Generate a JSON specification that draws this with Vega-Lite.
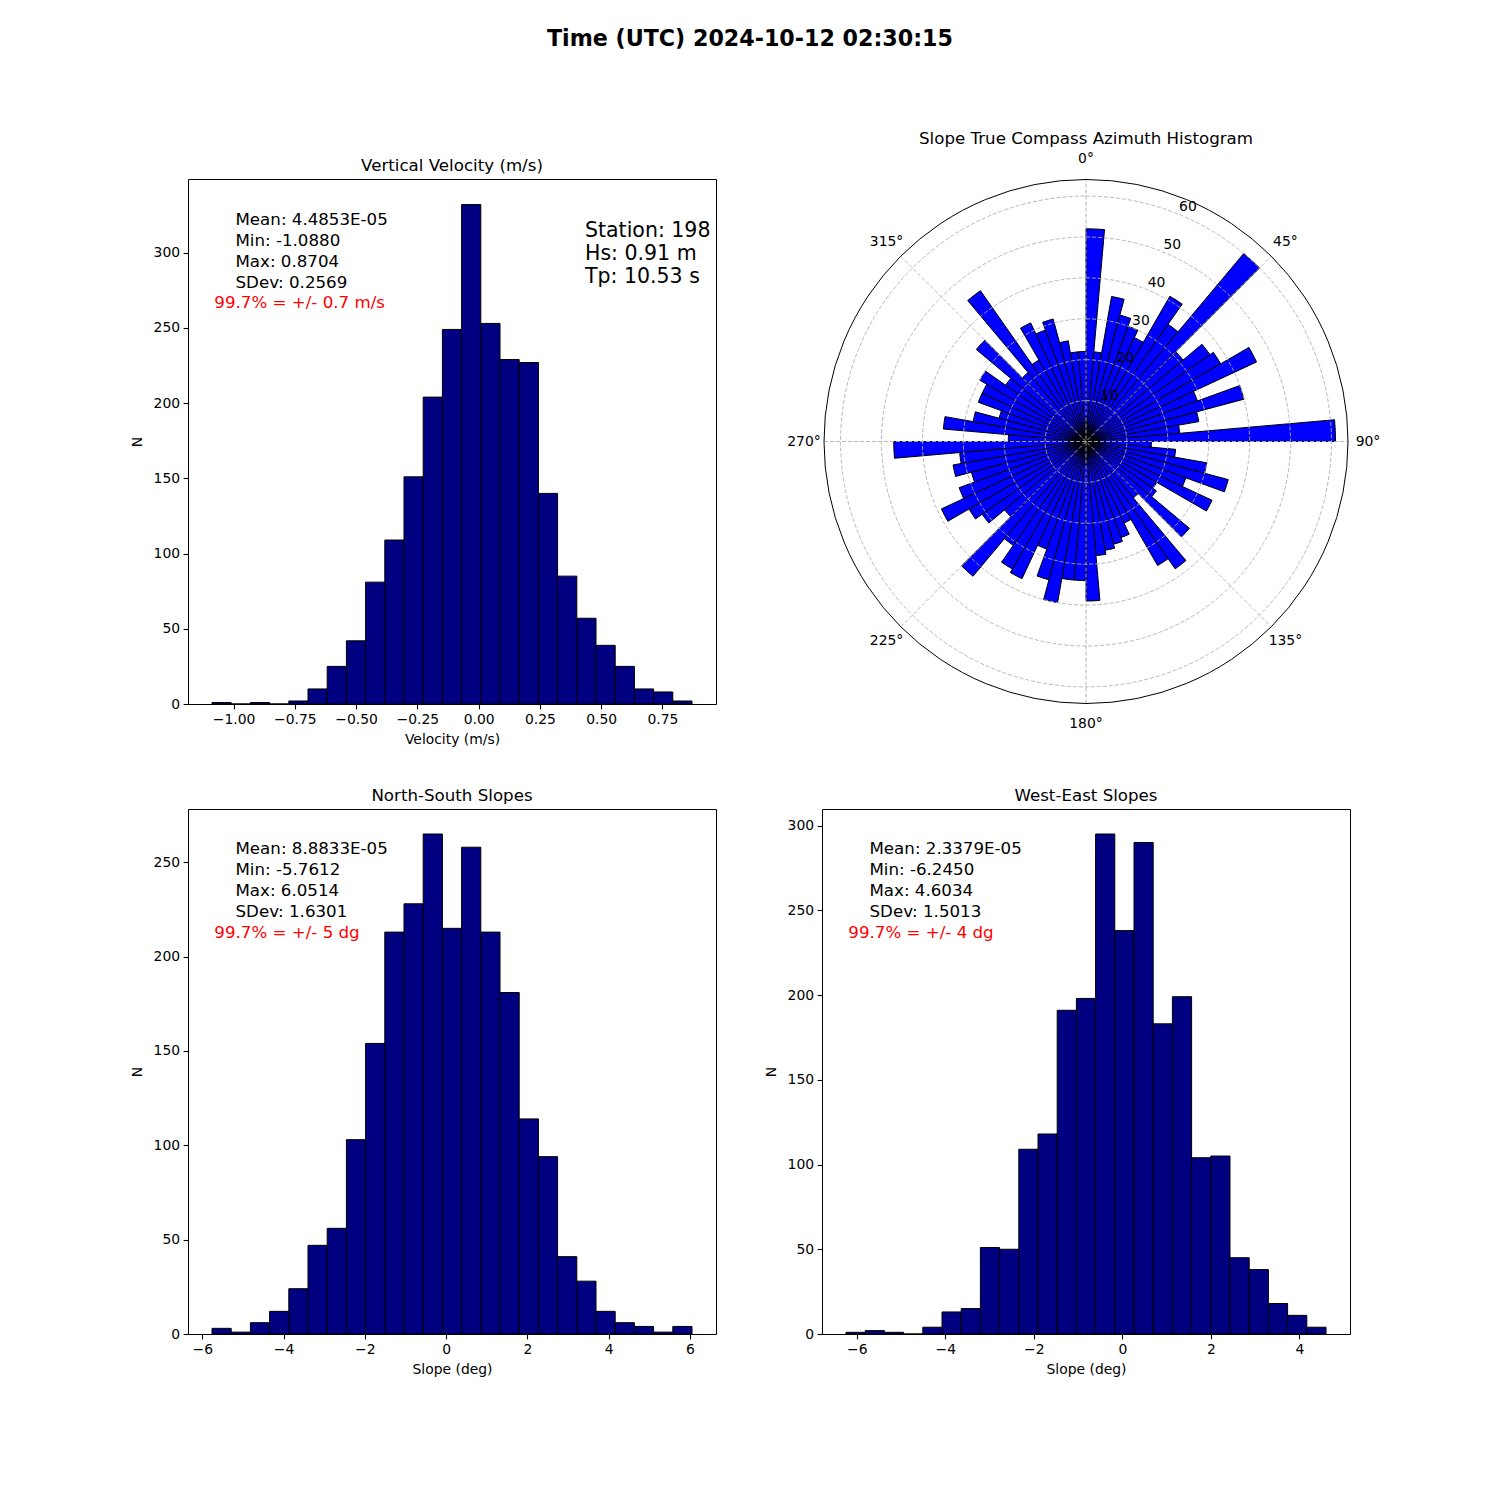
{
  "$schema": "https://vega.github.io/schema/vega-lite/v6.json",
  "background": "white",
  "padding": {"left": 129, "top": 28, "right": 5, "bottom": 5},
  "title": {"text": "Time (UTC) 2024-10-12 02:30:15", "font": "DejaVu Sans", "fontSize": 22.2, "fontWeight": "bold", "color": "black", "anchor": "middle", "offset": 81, "dx": -5},
  "columns": 2,
  "bounds": "flush",
  "spacing": {"row": 105, "column": 106},
  "config": {
    "font": "DejaVu Sans",
    "view": {"stroke": "black", "strokeWidth": 1},
    "axis": {"labelFont": "DejaVu Sans", "labelFontSize": 13.9, "labelColor": "black", "titleFont": "DejaVu Sans", "titleFontSize": 13.9, "titleFontWeight": "normal", "titleColor": "black", "tickColor": "black", "tickSize": 4.9, "tickWidth": 1.1, "domain": false, "grid": false, "labelPadding": 3.5, "labelFlush": false, "labelOverlap": false},
    "axisX": {"titlePadding": 6},
    "axisY": {"titlePadding": 9},
    "title": {"font": "DejaVu Sans", "fontSize": 16.67, "fontWeight": "normal", "color": "black", "offset": 4.5}
  },
  "concat": [
    {
      "width": 528, "height": 525,
      "title": {"text": "Vertical Velocity (m/s)"},
      "data": {"values": [
        {"lo": -1.088, "hi": -1.009664, "n": 1},
        {"lo": -1.009664, "hi": -0.931328, "n": 0},
        {"lo": -0.931328, "hi": -0.852992, "n": 1},
        {"lo": -0.852992, "hi": -0.774656, "n": 0},
        {"lo": -0.774656, "hi": -0.69632, "n": 2},
        {"lo": -0.69632, "hi": -0.617984, "n": 10},
        {"lo": -0.617984, "hi": -0.539648, "n": 25},
        {"lo": -0.539648, "hi": -0.461312, "n": 42},
        {"lo": -0.461312, "hi": -0.382976, "n": 81},
        {"lo": -0.382976, "hi": -0.30464, "n": 109},
        {"lo": -0.30464, "hi": -0.226304, "n": 151},
        {"lo": -0.226304, "hi": -0.147968, "n": 204},
        {"lo": -0.147968, "hi": -0.069632, "n": 249},
        {"lo": -0.069632, "hi": 0.008704, "n": 332},
        {"lo": 0.008704, "hi": 0.08704, "n": 253},
        {"lo": 0.08704, "hi": 0.165376, "n": 229},
        {"lo": 0.165376, "hi": 0.243712, "n": 227},
        {"lo": 0.243712, "hi": 0.322048, "n": 140},
        {"lo": 0.322048, "hi": 0.400384, "n": 85},
        {"lo": 0.400384, "hi": 0.47872, "n": 57},
        {"lo": 0.47872, "hi": 0.557056, "n": 39},
        {"lo": 0.557056, "hi": 0.635392, "n": 25},
        {"lo": 0.635392, "hi": 0.713728, "n": 10},
        {"lo": 0.713728, "hi": 0.792064, "n": 8},
        {"lo": 0.792064, "hi": 0.8704, "n": 2}
      ]},
      "layer": [
        {
          "mark": {"type": "bar", "fill": "#000080", "stroke": "black", "strokeWidth": 1},
          "encoding": {
            "x": {"field": "lo", "type": "quantitative", "scale": {"domain": [-1.18592, 0.96832], "nice": false, "zero": false}, "axis": {"title": "Velocity (m/s)", "values": [-1, -0.75, -0.5, -0.25, 0, 0.25, 0.5, 0.75], "format": ".2f"}},
            "x2": {"field": "hi"},
            "y": {"field": "n", "type": "quantitative", "scale": {"domain": [0, 349], "nice": false}, "axis": {"title": "N", "values": [0, 50, 100, 150, 200, 250, 300]}},
            "y2": {"datum": 0}
          }
        },
        {
          "data": {"values": [{"t": "Mean: 4.4853E-05\nMin: -1.0880\nMax: 0.8704\nSDev: 0.2569"}]},
          "mark": {"type": "text", "align": "left", "baseline": "alphabetic", "lineBreak": "\n", "lineHeight": 21, "fontSize": 16.67, "font": "DejaVu Sans", "color": "black"},
          "encoding": {"text": {"field": "t"}, "x": {"datum": -0.99212}, "y": {"datum": 318.7}}
        },
        {
          "data": {"values": [{"t": "99.7% = +/- 0.7 m/s"}]},
          "mark": {"type": "text", "align": "left", "baseline": "alphabetic", "fontSize": 16.67, "font": "DejaVu Sans", "color": "red"},
          "encoding": {"text": {"field": "t"}, "x": {"datum": -1.07862}, "y": {"datum": 263.1}}
        },
        {
          "data": {"values": [{"t": "Station: 198\nHs: 0.91 m\nTp: 10.53 s"}]},
          "mark": {"type": "text", "align": "left", "baseline": "alphabetic", "lineBreak": "\n", "lineHeight": 23, "fontSize": 20.5, "font": "DejaVu Sans", "color": "black"},
          "encoding": {"text": {"field": "t"}, "x": {"datum": 0.43384}, "y": {"datum": 310.75}}
        }
      ]
    },
    {
      "width": 528, "height": 525,
      "view": {"stroke": null},
      "title": {"text": "Slope True Compass Azimuth Histogram"},
      "layer": [
        {
          "data": {"values": [
            {"a0": 0, "a1": 5, "n": 52}, {"a0": 5, "a1": 10, "n": 22}, {"a0": 10, "a1": 15, "n": 36}, {"a0": 15, "a1": 20, "n": 32},
            {"a0": 20, "a1": 25, "n": 30}, {"a0": 25, "a1": 30, "n": 28}, {"a0": 30, "a1": 35, "n": 41}, {"a0": 35, "a1": 40, "n": 35},
            {"a0": 40, "a1": 45, "n": 60}, {"a0": 45, "a1": 50, "n": 31}, {"a0": 50, "a1": 55, "n": 37}, {"a0": 55, "a1": 60, "n": 38},
            {"a0": 60, "a1": 65, "n": 46}, {"a0": 65, "a1": 70, "n": 29}, {"a0": 70, "a1": 75, "n": 40}, {"a0": 75, "a1": 80, "n": 28},
            {"a0": 80, "a1": 85, "n": 23}, {"a0": 85, "a1": 90, "n": 61}, {"a0": 90, "a1": 95, "n": 16}, {"a0": 95, "a1": 100, "n": 22},
            {"a0": 100, "a1": 105, "n": 30}, {"a0": 105, "a1": 110, "n": 36}, {"a0": 110, "a1": 115, "n": 26}, {"a0": 115, "a1": 120, "n": 34},
            {"a0": 120, "a1": 125, "n": 20}, {"a0": 125, "a1": 130, "n": 21}, {"a0": 130, "a1": 135, "n": 33}, {"a0": 135, "a1": 140, "n": 18},
            {"a0": 140, "a1": 145, "n": 38}, {"a0": 145, "a1": 150, "n": 35}, {"a0": 150, "a1": 155, "n": 22}, {"a0": 155, "a1": 160, "n": 25},
            {"a0": 160, "a1": 165, "n": 26}, {"a0": 165, "a1": 170, "n": 27}, {"a0": 170, "a1": 175, "n": 28}, {"a0": 175, "a1": 180, "n": 39},
            {"a0": 180, "a1": 185, "n": 34}, {"a0": 185, "a1": 190, "n": 34}, {"a0": 190, "a1": 195, "n": 40}, {"a0": 195, "a1": 200, "n": 35},
            {"a0": 200, "a1": 205, "n": 28}, {"a0": 205, "a1": 210, "n": 37}, {"a0": 210, "a1": 215, "n": 36}, {"a0": 215, "a1": 220, "n": 31},
            {"a0": 220, "a1": 225, "n": 43}, {"a0": 225, "a1": 230, "n": 26}, {"a0": 230, "a1": 235, "n": 31}, {"a0": 235, "a1": 240, "n": 33},
            {"a0": 240, "a1": 245, "n": 39}, {"a0": 245, "a1": 250, "n": 33}, {"a0": 250, "a1": 255, "n": 29}, {"a0": 255, "a1": 260, "n": 33},
            {"a0": 260, "a1": 265, "n": 31}, {"a0": 265, "a1": 270, "n": 47}, {"a0": 270, "a1": 275, "n": 19}, {"a0": 275, "a1": 280, "n": 35},
            {"a0": 280, "a1": 285, "n": 28}, {"a0": 285, "a1": 290, "n": 22}, {"a0": 290, "a1": 295, "n": 28}, {"a0": 295, "a1": 300, "n": 28},
            {"a0": 300, "a1": 305, "n": 30}, {"a0": 305, "a1": 310, "n": 24}, {"a0": 310, "a1": 315, "n": 35}, {"a0": 315, "a1": 320, "n": 22},
            {"a0": 320, "a1": 325, "n": 45}, {"a0": 325, "a1": 330, "n": 23}, {"a0": 330, "a1": 335, "n": 32}, {"a0": 335, "a1": 340, "n": 29},
            {"a0": 340, "a1": 345, "n": 31}, {"a0": 345, "a1": 350, "n": 25}, {"a0": 350, "a1": 355, "n": 22}, {"a0": 355, "a1": 360, "n": 22}
          ]},
          "mark": {"type": "arc", "fill": "#0000ff", "stroke": "black", "strokeWidth": 1},
          "encoding": {
            "theta": {"field": "a0", "type": "quantitative", "stack": null, "scale": {"domain": [0, 360], "range": [0, 6.283185307179586]}},
            "theta2": {"field": "a1"},
            "radius": {"field": "n", "type": "quantitative", "scale": {"type": "linear", "domain": [0, 64.05], "range": [0, 262], "zero": true, "nice": false}},
            "radius2": {"datum": 0}
          }
        },
        {
          "data": {"values": [{"r": 10}, {"r": 20}, {"r": 30}, {"r": 40}, {"r": 50}, {"r": 60}]},
          "mark": {"type": "arc", "fill": "white", "fillOpacity": 0, "stroke": "#b0b0b0", "strokeWidth": 0.9, "strokeDash": [4, 2]},
          "encoding": {
            "theta": {"datum": 0, "type": "quantitative", "scale": {"domain": [0, 360], "range": [0, 6.283185307179586]}},
            "theta2": {"datum": 360},
            "radius": {"field": "r", "type": "quantitative", "scale": {"type": "linear", "domain": [0, 64.05], "range": [0, 262], "zero": true, "nice": false}},
            "radius2": {"datum": 0}
          }
        },
        {
          "data": {"values": [
            {"x": 0, "y": -64.05, "x2": 0, "y2": 64.05},
            {"x": -64.05, "y": 0, "x2": 64.05, "y2": 0},
            {"x": -45.29, "y": -45.29, "x2": 45.29, "y2": 45.29},
            {"x": -45.29, "y": 45.29, "x2": 45.29, "y2": -45.29}
          ]},
          "mark": {"type": "rule", "stroke": "#b0b0b0", "strokeWidth": 0.9, "strokeDash": [4, 2]},
          "encoding": {
            "x": {"field": "x", "type": "quantitative", "scale": {"domain": [-64.539, 64.539], "nice": false, "zero": false}, "axis": null},
            "y": {"field": "y", "type": "quantitative", "scale": {"domain": [-64.172, 64.172], "nice": false, "zero": false}, "axis": null},
            "x2": {"field": "x2"},
            "y2": {"field": "y2"}
          }
        },
        {
          "data": {"values": [{"r": 64.05}]},
          "mark": {"type": "arc", "fill": "white", "fillOpacity": 0, "stroke": "black", "strokeWidth": 1},
          "encoding": {
            "theta": {"datum": 0, "type": "quantitative", "scale": {"domain": [0, 360], "range": [0, 6.283185307179586]}},
            "theta2": {"datum": 360},
            "radius": {"field": "r", "type": "quantitative", "scale": {"type": "linear", "domain": [0, 64.05], "range": [0, 262], "zero": true, "nice": false}},
            "radius2": {"datum": 0}
          }
        },
        {
          "data": {"values": [{"v": 10, "t": "10"}, {"v": 20, "t": "20"}, {"v": 30, "t": "30"}, {"v": 40, "t": "40"}, {"v": 50, "t": "50"}, {"v": 60, "t": "60"}]},
          "mark": {"type": "text", "align": "center", "baseline": "middle", "dx": 8, "dy": -7.5, "fontSize": 13.9, "font": "DejaVu Sans", "color": "black"},
          "encoding": {
            "theta": {"datum": 22.5, "type": "quantitative", "scale": {"domain": [0, 360], "range": [0, 6.283185307179586]}},
            "radius": {"field": "v", "type": "quantitative", "scale": {"type": "linear", "domain": [0, 64.05], "range": [0, 262], "zero": true, "nice": false}},
            "text": {"field": "t"}
          }
        },
        {
          "data": {"values": [{"a": 0, "t": "0°"}, {"a": 45, "t": "45°"}, {"a": 90, "t": "90°"}, {"a": 135, "t": "135°"}, {"a": 180, "t": "180°"}, {"a": 225, "t": "225°"}, {"a": 270, "t": "270°"}, {"a": 315, "t": "315°"}]},
          "mark": {"type": "text", "align": "center", "baseline": "middle", "fontSize": 13.9, "font": "DejaVu Sans", "color": "black"},
          "encoding": {
            "theta": {"field": "a", "type": "quantitative", "stack": null, "scale": {"domain": [0, 360], "range": [0, 6.283185307179586]}},
            "radius": {"datum": 68.94, "type": "quantitative", "scale": {"type": "linear", "domain": [0, 64.05], "range": [0, 262], "zero": true, "nice": false}},
            "text": {"field": "t"}
          }
        }
      ]
    },
    {
      "width": 528, "height": 525,
      "title": {"text": "North-South Slopes"},
      "data": {"values": [
        {"lo": -5.7612, "hi": -5.288696, "n": 3},
        {"lo": -5.288696, "hi": -4.816192, "n": 1},
        {"lo": -4.816192, "hi": -4.343688, "n": 6},
        {"lo": -4.343688, "hi": -3.871184, "n": 12},
        {"lo": -3.871184, "hi": -3.39868, "n": 24},
        {"lo": -3.39868, "hi": -2.926176, "n": 47},
        {"lo": -2.926176, "hi": -2.453672, "n": 56},
        {"lo": -2.453672, "hi": -1.981168, "n": 103},
        {"lo": -1.981168, "hi": -1.508664, "n": 154},
        {"lo": -1.508664, "hi": -1.03616, "n": 213},
        {"lo": -1.03616, "hi": -0.563656, "n": 228},
        {"lo": -0.563656, "hi": -0.091152, "n": 265},
        {"lo": -0.091152, "hi": 0.381352, "n": 215},
        {"lo": 0.381352, "hi": 0.853856, "n": 258},
        {"lo": 0.853856, "hi": 1.32636, "n": 213},
        {"lo": 1.32636, "hi": 1.798864, "n": 181},
        {"lo": 1.798864, "hi": 2.271368, "n": 114},
        {"lo": 2.271368, "hi": 2.743872, "n": 94},
        {"lo": 2.743872, "hi": 3.216376, "n": 41},
        {"lo": 3.216376, "hi": 3.68888, "n": 28},
        {"lo": 3.68888, "hi": 4.161384, "n": 12},
        {"lo": 4.161384, "hi": 4.633888, "n": 6},
        {"lo": 4.633888, "hi": 5.106392, "n": 4},
        {"lo": 5.106392, "hi": 5.578896, "n": 1},
        {"lo": 5.578896, "hi": 6.0514, "n": 4}
      ]},
      "layer": [
        {
          "mark": {"type": "bar", "fill": "#000080", "stroke": "black", "strokeWidth": 1},
          "encoding": {
            "x": {"field": "lo", "type": "quantitative", "scale": {"domain": [-6.35183, 6.64203], "nice": false, "zero": false}, "axis": {"title": "Slope (deg)", "values": [-6, -4, -2, 0, 2, 4, 6], "format": "d"}},
            "x2": {"field": "hi"},
            "y": {"field": "n", "type": "quantitative", "scale": {"domain": [0, 278.25], "nice": false}, "axis": {"title": "N", "values": [0, 50, 100, 150, 200, 250]}},
            "y2": {"datum": 0}
          }
        },
        {
          "data": {"values": [{"t": "Mean: 8.8833E-05\nMin: -5.7612\nMax: 6.0514\nSDev: 1.6301"}]},
          "mark": {"type": "text", "align": "left", "baseline": "alphabetic", "lineBreak": "\n", "lineHeight": 21, "fontSize": 16.67, "font": "DejaVu Sans", "color": "black"},
          "encoding": {"text": {"field": "t"}, "x": {"datum": -5.18287}, "y": {"datum": 254.4}}
        },
        {
          "data": {"values": [{"t": "99.7% = +/- 5 dg"}]},
          "mark": {"type": "text", "align": "left", "baseline": "alphabetic", "fontSize": 16.67, "font": "DejaVu Sans", "color": "red"},
          "encoding": {"text": {"field": "t"}, "x": {"datum": -5.7046}, "y": {"datum": 210.0}}
        }
      ]
    },
    {
      "width": 528, "height": 525,
      "title": {"text": "West-East Slopes"},
      "data": {"values": [
        {"lo": -6.245, "hi": -5.811064, "n": 1},
        {"lo": -5.811064, "hi": -5.377128, "n": 2},
        {"lo": -5.377128, "hi": -4.943192, "n": 1},
        {"lo": -4.943192, "hi": -4.509256, "n": 0},
        {"lo": -4.509256, "hi": -4.07532, "n": 4},
        {"lo": -4.07532, "hi": -3.641384, "n": 13},
        {"lo": -3.641384, "hi": -3.207448, "n": 15},
        {"lo": -3.207448, "hi": -2.773512, "n": 51},
        {"lo": -2.773512, "hi": -2.339576, "n": 50},
        {"lo": -2.339576, "hi": -1.90564, "n": 109},
        {"lo": -1.90564, "hi": -1.471704, "n": 118},
        {"lo": -1.471704, "hi": -1.037768, "n": 191},
        {"lo": -1.037768, "hi": -0.603832, "n": 198},
        {"lo": -0.603832, "hi": -0.169896, "n": 295},
        {"lo": -0.169896, "hi": 0.26404, "n": 238},
        {"lo": 0.26404, "hi": 0.697976, "n": 290},
        {"lo": 0.697976, "hi": 1.131912, "n": 183},
        {"lo": 1.131912, "hi": 1.565848, "n": 199},
        {"lo": 1.565848, "hi": 1.999784, "n": 104},
        {"lo": 1.999784, "hi": 2.43372, "n": 105},
        {"lo": 2.43372, "hi": 2.867656, "n": 45},
        {"lo": 2.867656, "hi": 3.301592, "n": 38},
        {"lo": 3.301592, "hi": 3.735528, "n": 18},
        {"lo": 3.735528, "hi": 4.169464, "n": 11},
        {"lo": 4.169464, "hi": 4.6034, "n": 4}
      ]},
      "layer": [
        {
          "mark": {"type": "bar", "fill": "#000080", "stroke": "black", "strokeWidth": 1},
          "encoding": {
            "x": {"field": "lo", "type": "quantitative", "scale": {"domain": [-6.78742, 5.14582], "nice": false, "zero": false}, "axis": {"title": "Slope (deg)", "values": [-6, -4, -2, 0, 2, 4], "format": "d"}},
            "x2": {"field": "hi"},
            "y": {"field": "n", "type": "quantitative", "scale": {"domain": [0, 309.75], "nice": false}, "axis": {"title": "N", "values": [0, 50, 100, 150, 200, 250, 300]}},
            "y2": {"datum": 0}
          }
        },
        {
          "data": {"values": [{"t": "Mean: 2.3379E-05\nMin: -6.2450\nMax: 4.6034\nSDev: 1.5013"}]},
          "mark": {"type": "text", "align": "left", "baseline": "alphabetic", "lineBreak": "\n", "lineHeight": 21, "fontSize": 16.67, "font": "DejaVu Sans", "color": "black"},
          "encoding": {"text": {"field": "t"}, "x": {"datum": -5.71388}, "y": {"datum": 283.2}}
        },
        {
          "data": {"values": [{"t": "99.7% = +/- 4 dg"}]},
          "mark": {"type": "text", "align": "left", "baseline": "alphabetic", "fontSize": 16.67, "font": "DejaVu Sans", "color": "red"},
          "encoding": {"text": {"field": "t"}, "x": {"datum": -6.19302}, "y": {"datum": 233.8}}
        }
      ]
    }
  ]
}
